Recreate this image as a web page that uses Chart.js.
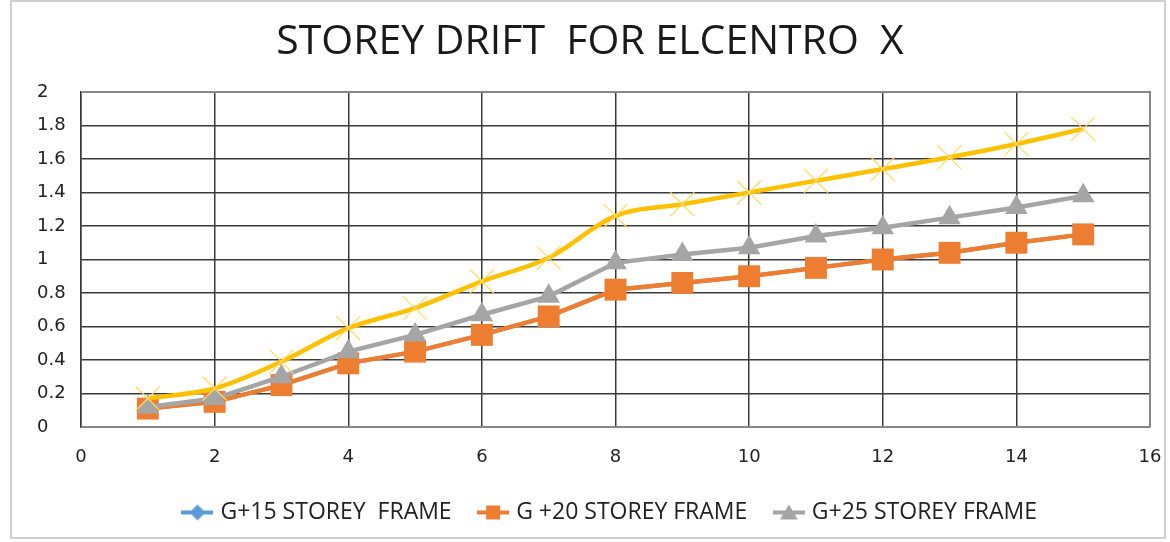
<!DOCTYPE html>
<html>
<head>
<meta charset="utf-8">
<script src="https://cdn.jsdelivr.net/npm/chart.js@4"></script>
<style>
  html, body { margin: 0; padding: 0; background: #fff; }
  #wrap { position: relative; width: 1170px; height: 542px; }
  #frame { position: absolute; left: 10px; top: 0; width: 1156px; height: 539px; border: 2px solid #d0d0d0; box-sizing: border-box; pointer-events: none; }
  canvas { position: absolute; left: 0; top: 0; }
</style>
</head>
<body>
<div id="wrap">
  <canvas id="drift" width="1170" height="542"></canvas>
  <div id="frame"></div>
</div>
<script>
// Data
const storeys = [1, 2, 3, 4, 5, 6, 7, 8, 9, 10, 11, 12, 13, 14, 15];
const g15 = [0.11, 0.15, 0.25, 0.38, 0.45, 0.55, 0.66, 0.82, 0.86, 0.90, 0.95, 1.00, 1.04, 1.10, 1.15];
const g20 = [0.11, 0.15, 0.25, 0.38, 0.45, 0.55, 0.66, 0.82, 0.86, 0.90, 0.95, 1.00, 1.04, 1.10, 1.15];
const g25 = [0.12, 0.17, 0.30, 0.45, 0.55, 0.67, 0.78, 0.98, 1.03, 1.07, 1.14, 1.19, 1.25, 1.31, 1.38];
const g30 = [0.17, 0.23, 0.39, 0.59, 0.71, 0.87, 1.01, 1.26, 1.33, 1.40, 1.47, 1.54, 1.61, 1.69, 1.78];
const seriesNames = ["G+15 STOREY  FRAME", "G +20 STOREY FRAME", "G+25 STOREY FRAME", "G+30 STOREY FRAME"];
const seriesColors = ["#5B9BD5", "#ED7D31", "#A5A5A5", "#FFC000"];
const chartTitle = "STOREY DRIFT  FOR ELCENTRO  X";

const toPoints = arr => arr.map((v, i) => ({ x: storeys[i], y: v }));
const gridColor = "#3a3a3a";

// legend swatch: short line with the marker in the middle (Excel style)
function swatch(color, shape) {
  const c = document.createElement("canvas");
  c.width = 32; c.height = 20;
  const g = c.getContext("2d");
  g.strokeStyle = color; g.lineWidth = 4;
  g.beginPath(); g.moveTo(0, 10); g.lineTo(32, 10); g.stroke();
  g.fillStyle = color;
  g.beginPath();
  if (shape === "diamond") { g.moveTo(16, 2); g.lineTo(24, 10); g.lineTo(16, 18); g.lineTo(8, 10); }
  else if (shape === "square") { g.rect(9, 3, 14, 14); }
  else { g.moveTo(16, 2); g.lineTo(25, 17); g.lineTo(7, 17); }
  g.closePath(); g.fill();
  return c;
}
const legendShapes = ["diamond", "square", "triangle"];

// title drawn at a fixed centre, like the source image
const titlePlugin = {
  id: "fixedTitle",
  afterDraw(chart) {
    const { ctx } = chart;
    ctx.save();
    ctx.font = "41px 'Open Sans'";
    ctx.fillStyle = "#1a1a1a";
    ctx.textAlign = "center";
    ctx.textBaseline = "middle";
    ctx.fillText(chartTitle, 590, 42);
    ctx.restore();
  }
};

// legend sits a bit right of centre in the source
const legendShift = {
  id: "legendShift",
  afterLayout(chart) {
    chart.legend.left += 18;
    chart.legend.right += 18;
  }
};

const plotBorder = {
  id: "plotBorder",
  afterDraw(chart) {
    const { ctx, chartArea: a } = chart;
    ctx.save();
    ctx.strokeStyle = "#888";
    ctx.lineWidth = 2;
    ctx.beginPath();
    ctx.moveTo(a.left, a.top);
    ctx.lineTo(a.right, a.top);
    ctx.lineTo(a.right, a.bottom);
    ctx.stroke();
    ctx.restore();
  }
};

new Chart(document.getElementById("drift").getContext("2d"), {
  type: "line",
  data: {
    datasets: [
      {
        label: seriesNames[0], data: toPoints(g15), order: 4,
        borderColor: seriesColors[0], backgroundColor: seriesColors[0],
        borderWidth: 4, pointStyle: "rectRot", pointRadius: 9, pointBorderWidth: 0, tension: 0
      },
      {
        label: seriesNames[1], data: toPoints(g20), order: 3,
        borderColor: seriesColors[1], backgroundColor: seriesColors[1],
        borderWidth: 4.5, pointStyle: "rect", pointRadius: 15.5, pointBorderWidth: 0, tension: 0
      },
      {
        label: seriesNames[2], data: toPoints(g25), order: 2,
        borderColor: seriesColors[2], backgroundColor: seriesColors[2],
        borderWidth: 4.5, pointStyle: "triangle", pointRadius: 13, pointBorderWidth: 0, tension: 0
      },
      {
        label: seriesNames[3], data: toPoints(g30), order: 1,
        borderColor: seriesColors[3], backgroundColor: seriesColors[3],
        borderWidth: 4.5, pointStyle: "crossRot", pointRadius: 17,
        pointBorderColor: "#FFD966", pointBorderWidth: 1.2,
        tension: 0.3, cubicInterpolationMode: "monotone"
      }
    ]
  },
  options: {
    responsive: false,
    animation: false,
    layout: { padding: { left: 37, right: 20, top: 92, bottom: 8 } },
    plugins: {
      title: { display: false },
      legend: {
        position: "bottom",
        labels: {
          usePointStyle: true,
          color: "#222",
          font: { family: "Open Sans", size: 23 },
          padding: 30,
          generateLabels: chart => chart.data.datasets.slice(0, 3).map((ds, i) => ({
            text: ds.label,
            pointStyle: swatch(seriesColors[i], legendShapes[i]),
            fontColor: "#222",
            datasetIndex: i,
            hidden: false,
            lineWidth: 0
          }))
        }
      },
      tooltip: { enabled: false }
    },
    scales: {
      x: {
        type: "linear", min: 0, max: 16,
        ticks: { stepSize: 2, color: "#222", font: { family: "DejaVu Sans", size: 18 }, padding: 6 },
        grid: { color: gridColor, lineWidth: 1.5, drawTicks: true, tickLength: 14, tickColor: "rgba(0,0,0,0)" },
        border: { color: "#888", width: 2 },
        afterFit: s => { s.height = 44; }
      },
      y: {
        min: 0, max: 2,
        ticks: {
          stepSize: 0.2, color: "#222", font: { family: "DejaVu Sans", size: 18 }, padding: 14,
          crossAlign: "far",
          callback: v => String(Math.round(v * 10) / 10)
        },
        grid: { color: gridColor, lineWidth: 1.5, drawTicks: false },
        border: { color: gridColor, width: 1.5 },
        afterFit: s => { s.width = 44; }
      }
    }
  },
  plugins: [titlePlugin, legendShift, plotBorder]
});
</script>
</body>
</html>
